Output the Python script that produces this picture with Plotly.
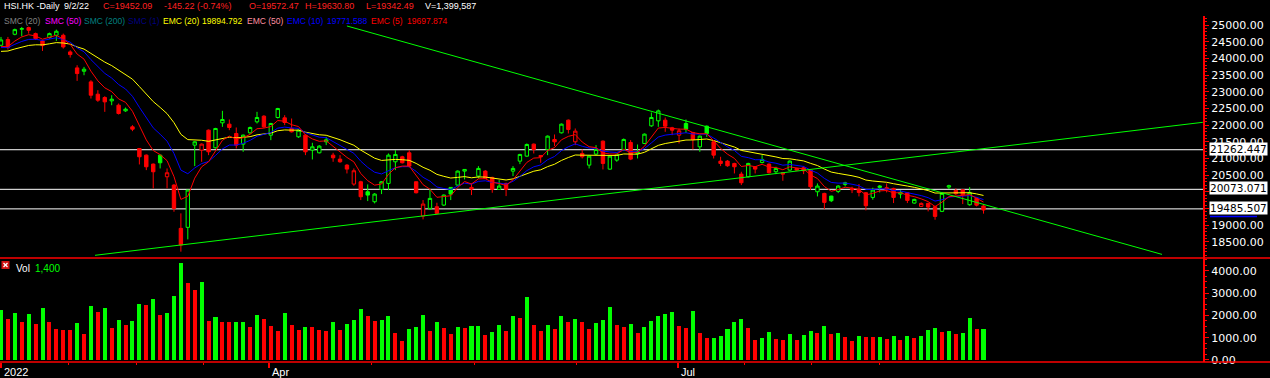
import plotly.graph_objects as go

# ---------------- data ----------------
opens = [24400, 24570, 24730, 24880, 24930, 24750, 24530, 24630, 24700, 24700,
         24200, 23720, 23620, 23300, 22930, 22830, 22730, 22600, 22430, 21950,
         21300, 21100, 20830, 21100, 20450, 20200, 18900, 18930, 21400, 21250,
         21850, 21320, 22070, 22030, 21750, 21430, 21770, 22100, 22270, 21700,
         22230, 22220, 21900, 21650, 21700, 21250, 21170, 21500, 21100, 20980,
         20800, 20230, 20300, 20000, 19700, 20070, 20250, 20900, 21050, 21170,
         20300, 19270, 19500, 19550, 19600, 20130, 20200, 20620, 20130, 20470,
         20620, 20430, 20070, 20250, 20620, 20920, 21070, 21430, 21090, 21270,
         21570, 21770, 22150, 21500, 21150, 20800, 21130, 21520, 20680, 20950,
         21250, 21480, 21150, 21450, 21980, 22130, 22150, 21920, 21700, 22050,
         21780, 21350, 21970, 21500, 20920, 20920, 20850, 20530, 20450, 20750,
         20880, 20830, 20600, 20570, 20650, 20700, 20720, 20650, 20000, 19950,
         19870, 20010, 20220, 20100, 20070, 19970, 19830, 20130, 20120, 20100,
         19930, 19970, 19660, 19560, 19650, 19550, 19410, 20140, 20040, 20060,
         19610, 19800, 19572.47]
highs = [24650, 24650, 24900, 24950, 24960, 24780, 24560, 24780, 24870, 24750,
         24250, 23800, 23750, 23350, 23050, 22870, 22900, 22650, 22530, 22000,
         21300, 21120, 20850, 21110, 20700, 20230, 19350, 20060, 21520, 21450,
         21870, 21920, 22430, 22170, 21930, 21720, 21960, 22400, 22300, 22070,
         22520, 22300, 22200, 21870, 21720, 21470, 21400, 21650, 21170, 21100,
         20830, 20700, 20330, 20220, 19960, 20320, 21150, 21250, 21080, 21250,
         20310, 19750, 20070, 19670, 19920, 20140, 20640, 20680, 20250, 20770,
         20650, 20450, 20350, 20270, 20770, 21140, 21450, 21450, 21100, 21690,
         21720, 22050, 22170, 21900, 21270, 21080, 21400, 21540, 21090, 21150,
         21600, 21550, 21420, 21750, 22380, 22470, 22230, 21950, 21900, 22170,
         21800, 21690, 21990, 21520, 21050, 20950, 20870, 20600, 20870, 20770,
         21100, 20850, 20750, 20580, 20940, 20720, 20770, 20670, 20250, 19970,
         19880, 20200, 20300, 20150, 20230, 19990, 20120, 20200, 20250, 20120,
         20050, 19990, 19790, 19680, 19670, 19580, 19970, 20210, 20100, 20080,
         20140, 19830, 19630.80]
lows = [24370, 24270, 24700, 24670, 24750, 24560, 24230, 24600, 24530, 24300,
        24030, 23330, 23500, 22800, 22700, 22400, 22600, 22320, 22400, 21820,
        20820, 20650, 20100, 20700, 20100, 19400, 18200, 18570, 20770, 20900,
        21100, 21300, 21950, 21850, 21300, 21200, 21740, 22050, 21920, 21550,
        22200, 22000, 21780, 21620, 21100, 20970, 21150, 21400, 20900, 20870,
        20550, 20180, 19750, 19720, 19650, 19930, 20050, 20650, 20850, 20730,
        19950, 19170, 19450, 19330, 19570, 19750, 20180, 20370, 19900, 20400,
        20380, 19970, 20060, 19870, 20470, 20830, 21050, 21150, 20870, 21100,
        21370, 21750, 21750, 21400, 21000, 20700, 21100, 20670, 20660, 20900,
        21230, 20950, 21000, 21430, 21950, 21950, 21800, 21700, 21450, 21770,
        21270, 21200, 21650, 21000, 20770, 20750, 20550, 20200, 20430, 20550,
        20850, 20550, 20530, 20330, 20630, 20630, 20530, 20050, 19860, 19480,
        19690, 19960, 20160, 19960, 19860, 19440, 19760, 19980, 19980, 19660,
        19800, 19660, 19640, 19540, 19410, 19160, 19390, 20080, 19900, 19630,
        19580, 19560, 19342.49]
closes = [24560, 24330, 24870, 24900, 24850, 24600, 24390, 24750, 24820, 24350,
          24120, 23550, 23680, 22900, 22750, 22700, 22780, 22350, 22480, 21880,
          21050, 20750, 20600, 20870, 20570, 19500, 18400, 20050, 21500, 21430,
          21200, 21900, 22170, 21930, 21400, 21700, 21930, 22230, 21950, 22050,
          22500, 22080, 21800, 21850, 21200, 21350, 21370, 21560, 21020, 20900,
          20680, 20630, 19850, 19900, 19930, 20300, 21100, 21120, 20870, 20770,
          19970, 19630, 19800, 19350, 19900, 19930, 20620, 20670, 20080, 20700,
          20400, 20070, 20170, 20070, 20700, 21120, 21420, 21270, 21050, 21670,
          21500, 22030, 21870, 21820, 21050, 21070, 21270, 20850, 21070, 21120,
          21570, 20980, 21200, 21730, 22230, 22430, 21970, 21850, 21830, 21880,
          21570, 21670, 21750, 21100, 20850, 20780, 20750, 20270, 20850, 20680,
          20970, 20570, 20700, 20530, 20920, 20650, 20630, 20150, 20170, 19680,
          19730, 20170, 20270, 20060, 19980, 19580, 20050, 20170, 20060, 19830,
          19980, 19740, 19770, 19650, 19540, 19260, 19950, 20180, 19940, 19910,
          19970, 19597.31, 19452.09]
volumes = [2240, 1836, 2105, 1701, 2060, 1612, 2328, 1701, 1388, 1343,
           1330, 1656, 1164, 2418, 2149, 2328, 1432, 1791, 1567, 1746,
           2507, 2462, 2731, 2015, 2105, 2866, 4344, 3448, 3134, 3493,
           1746, 1925, 1701, 1690, 1710, 1720, 1477, 2015, 1836, 1522,
           1298, 2105, 1567, 1343, 1477, 1460, 1343, 1298, 1701, 1343,
           1612, 1791, 2284, 1970, 1746, 1791, 1970, 1209, 850, 1387,
           1477, 2015, 1298, 1701, 1432, 1164, 1477, 1432, 1522, 1530,
           1119, 1253, 1567, 1298, 1970, 1880, 2821, 1567, 1298, 1567,
           1388, 1970, 1701, 1836, 1701, 1388, 1656, 1791, 2373, 1567,
           1477, 1612, 1209, 1477, 1746, 1970, 2060, 2149, 1522, 1432,
           2194, 1209, 984, 1000, 1074, 1388, 1701, 1836, 1432, 895,
           984, 1253, 940, 895, 1164, 895, 1119, 1298, 1209, 1522,
           1164, 1209, 1030, 850, 1074, 1030, 1025, 1040, 940, 1074,
           895, 1074, 984, 1074, 1343, 1432, 1253, 1298, 1164, 1209,
           1880, 1390, 1399.587]

prev_close_seed = 24500          # close before the first visible bar
prev_volume_seed = 2000          # volume before the first visible bar
ema_seeds = {5: 24270, 10: 24280, 20: 24180}   # indicator values before first bar

levels = [21262.447, 20073.071, 19485.507]
level_labels = ["21262.447", "20073.071", "19485.507"]

# trend lines: (bar index, price) pairs
trend_down_x = [50.0, 167.8]
trend_down_y = [24979, 18118]
trend_up_x = [13.59, 173.7]
trend_up_y = [18091, 22086]

month_labels = ["2022", "Apr", "Jul"]
month_ticks = [0.0, 38.8, 97.9]
minor_ticks = [9.7, 19.6, 29.2, 53.6, 68.4, 83.2, 107.5, 117.2, 127.0]

price_ticks = list(range(18500, 25001, 500))
hidden_price_labels = [20000, 19500]      # covered by the level boxes in the reference
volume_ticks = [0, 1000, 2000, 3000, 4000]

# ---------------- derived ----------------
n = len(closes)
idx = list(range(n))
prevc = [prev_close_seed] + closes[:-1]
up = [c >= p for c, p in zip(closes, prevc)]
prevv = [prev_volume_seed] + volumes[:-1]
vol_up = [v >= p for v, p in zip(volumes, prevv)]


def ema(values, period, seed):
    a = 2.0 / (period + 1)
    out, prev = [], seed
    for v in values:
        prev = prev + a * (v - prev)
        out.append(prev)
    return out


ema5 = ema(closes, 5, ema_seeds[5])
ema10 = ema(closes, 10, ema_seeds[10])
ema20 = ema(closes, 20, ema_seeds[20])

GREEN = "#00FF00"
RED = "#FF0000"

# ---------------- layout geometry (pixels) ----------------
W, H = 1270, 378
PL, PR, PT, PB = 0, 1203, 16, 362
SPLIT = 258


def pxx(x):
    return (x - PL) / (PR - PL)


def pyy(y):
    return (PB - y) / (PB - PT)


SPLIT_FRAC = pyy(SPLIT)

fig = go.Figure()

# candles
for flag, col in ((True, GREEN), (False, RED)):
    ids = [i for i in idx if up[i] == flag]
    fig.add_trace(go.Candlestick(
        x=ids,
        open=[opens[i] for i in ids], high=[highs[i] for i in ids],
        low=[lows[i] for i in ids], close=[closes[i] for i in ids],
        increasing=dict(line=dict(color=col, width=1), fillcolor="#000000"),
        decreasing=dict(line=dict(color=col, width=1), fillcolor=col),
        whiskerwidth=0, xaxis="x", yaxis="y", hoverinfo="skip", showlegend=False))

# moving averages
for vals, col in ((ema20, "#FFFF00"), (ema10, "#0000FF"), (ema5, "#FF0000")):
    fig.add_trace(go.Scatter(x=idx, y=vals, mode="lines", line=dict(color=col, width=1),
                             xaxis="x", yaxis="y", hoverinfo="skip", showlegend=False))

# trend lines
for tx, ty in ((trend_down_x, trend_down_y), (trend_up_x, trend_up_y)):
    fig.add_trace(go.Scatter(x=tx, y=ty, mode="lines", line=dict(color=GREEN, width=1),
                             xaxis="x", yaxis="y", hoverinfo="skip", showlegend=False))

# volume
fig.add_trace(go.Bar(x=idx, y=volumes, width=0.58,
                     marker=dict(color=[GREEN if u else RED for u in vol_up], line=dict(width=0)),
                     xaxis="x", yaxis="y2", hoverinfo="skip", showlegend=False))

shapes = []
for lv in levels:
    shapes.append(dict(type="line", xref="x domain", x0=0, x1=1, yref="y", y0=lv, y1=lv,
                       line=dict(color="white", width=1), layer="below"))
# panel separators
for yy in (SPLIT, PB):
    shapes.append(dict(type="line", xref="paper", x0=0, x1=W / (PR - PL), yref="paper",
                       y0=pyy(yy), y1=pyy(yy), line=dict(color=RED, width=1.5)))
# blue underline under last level label
shapes.append(dict(type="line", xref="paper", x0=pxx(1210), x1=pxx(1257), yref="paper",
                   y0=pyy(216.5), y1=pyy(216.5), line=dict(color="#0000FF", width=1.5)))
# vol icon
shapes.append(dict(type="rect", xref="paper", yref="paper", x0=pxx(1.5), x1=pxx(9.5),
                   y0=pyy(269), y1=pyy(261), fillcolor="#D01010", line=dict(width=0)))
shapes.append(dict(type="line", xref="paper", yref="paper", x0=pxx(3.5), x1=pxx(7.5),
                   y0=pyy(263), y1=pyy(267), line=dict(color="white", width=1.3)))
shapes.append(dict(type="line", xref="paper", yref="paper", x0=pxx(3.5), x1=pxx(7.5),
                   y0=pyy(267), y1=pyy(263), line=dict(color="white", width=1.3)))

ann = []


def text(x, y, s, color, size=9, family="Liberation Sans"):
    ann.append(dict(x=pxx(x), y=pyy(y), xref="paper", yref="paper", text=s, showarrow=False,
                    xanchor="left", yanchor="middle",
                    font=dict(family=family, size=size, color=color)))


# header row 1
text(2, 6, "HSI.HK -Daily", "white")
text(62, 6, "9/2/22", "white")
text(101, 6, "C=19452.09", "#FF2020")
text(162, 6, "-145.22 (-0.74%)", "#FF2020")
text(247, 6, "O=19572.47", "#FF2020")
text(303, 6, "H=19630.80", "#FF2020")
text(364, 6, "L=19342.49", "#FF2020")
text(423, 6, "V=1,399,587", "white")
# header row 2
text(2, 21, "SMC (20)", "#808080", size=8.5)
text(43, 21, "SMC (50)", "#FF00FF", size=8.5)
text(82, 21, "SMC (200)", "#008080", size=8.5)
text(126, 21, "SMC (1)", "#000080", size=8.5)
text(161, 21, "EMC (20)", "#FFFF00", size=8.5)
text(200, 21, "19894.792", "#FFFF00", size=8.5)
text(245, 21, "EMC (50)", "#FF8FA0", size=8.5)
text(285, 21, "EMC (10)", "#0000FF", size=8.5)
text(325, 21, "19771.588", "#0000FF", size=8.5)
text(369, 21, "EMC (5)", "#FF0000", size=8.5)
text(405, 21, "19697.874", "#FF0000", size=8.5)
# volume legend
text(14, 268, "Vol", "white", size=10)
text(33, 268, "1,400", GREEN, size=10)
# month labels under the axis
for lab, t in zip(month_labels, month_ticks):
    ann.append(dict(x=t, y=pyy(372), xref="x", yref="paper", text=lab, showarrow=False,
                    xanchor="left", yanchor="middle", xshift=1,
                    font=dict(family="Liberation Sans", size=11, color="white")))
# level labels
for lv, lab in zip(levels, level_labels):
    ann.append(dict(x=pxx(1209), y=lv, xref="paper", yref="y", text=lab, showarrow=False,
                    xanchor="left", yanchor="middle", yshift=1, bgcolor="white", borderpad=0,
                    font=dict(family="DejaVu Sans", size=10.5, color="black")))

X0 = -1 / 6.919
X1 = (PR - 1) / 6.919

axis_font = dict(family="DejaVu Sans", size=11, color="white")
price_text = ["" if v in hidden_price_labels else f"{v:.2f}" for v in price_ticks]
vol_text = [f"{v:.2f}" for v in volume_ticks]

fig.update_layout(
    width=W, height=H,
    margin=dict(l=PL, r=W - PR, t=PT, b=H - PB, pad=0),
    paper_bgcolor="black", plot_bgcolor="black",
    showlegend=False, boxgap=0.3, bargap=0,
    xaxis=dict(domain=[0, 1], range=[X0, X1], anchor="y2", showgrid=False, zeroline=False,
               showline=False, rangeslider=dict(visible=False), tickmode="array",
               tickvals=month_ticks, showticklabels=False, ticks="outside", ticklen=5,
               tickwidth=2, tickcolor=RED,
               minor=dict(tickmode="array", tickvals=minor_ticks, ticks="outside",
                          ticklen=2, tickwidth=1, tickcolor=RED, showgrid=False)),
    yaxis=dict(domain=[SPLIT_FRAC, 1], range=[18010, 25279], side="right", anchor="x",
               showgrid=False, zeroline=False, showline=True, linecolor=RED, linewidth=2,
               ticks="outside", ticklen=4, tickwidth=1, tickcolor=RED,
               tickmode="array", tickvals=price_ticks, ticktext=price_text, tickfont=axis_font,
               minor=dict(dtick=100, tick0=0, ticks="outside", ticklen=2, tickcolor=RED,
                          showgrid=False)),
    yaxis2=dict(domain=[0, SPLIT_FRAC], range=[-90, 4568], side="right", anchor="x",
                showgrid=False, zeroline=False, showline=True, linecolor=RED, linewidth=2,
                ticks="outside", ticklen=4, tickwidth=1, tickcolor=RED,
                tickmode="array", tickvals=volume_ticks, ticktext=vol_text, tickfont=axis_font,
                minor=dict(dtick=250, tick0=0, ticks="outside", ticklen=2, tickcolor=RED,
                           showgrid=False)),
    shapes=shapes, annotations=ann,
)

fig.write_html("out.html", config={"displayModeBar": False})
